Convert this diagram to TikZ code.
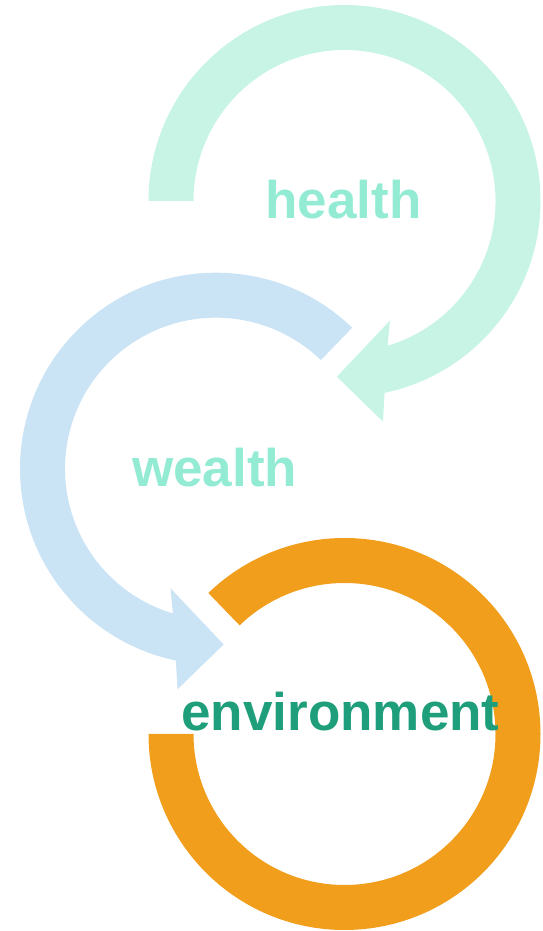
\documentclass[tikz,border=0pt]{standalone}
\usepackage{fontspec}
\setmainfont{Liberation Sans}
\definecolor{hring}{HTML}{C8F4E6}
\definecolor{mint}{HTML}{93EBD4}
\definecolor{wring}{HTML}{CAE3F5}
\definecolor{ering}{HTML}{F29E1D}
\definecolor{etext}{HTML}{1E9E7A}
\tikzset{
  lbl/.style={font=\fontsize{53}{60}\selectfont\bfseries, inner sep=0pt, anchor=base},
}
\begin{document}
\begin{tikzpicture}[x=1pt,y=1pt]
\useasboundingbox (0,0) rectangle (543,931);
% health ring
\begin{scope}[shift={(344.5,730)}]
\fill[hring] (180:196) arc[start angle=180, end angle=-78.2, radius=196]
  -- (-80.1:224) -- (-92.5:175.9) -- (-69.2:128) -- (-73.4:151)
  arc[start angle=-73.4, end angle=180, radius=151] -- cycle;
\end{scope}
% wealth ring
\begin{scope}[shift={(216,462.3)}]
\fill[wring] (46:196) arc[start angle=46, end angle=258.2, radius=196]
  -- (-99.9:224) -- (-87.5:175.9) -- (-110.8:128) -- (253.4:151)
  arc[start angle=253.4, end angle=46, radius=151] -- cycle;
\end{scope}
% environment ring
\begin{scope}[shift={(344.5,197)}]
\fill[ering] (180:196) arc[start angle=180, end angle=494, radius=196]
  -- (494:151) arc[start angle=494, end angle=180, radius=151] -- cycle;
\end{scope}
\node[lbl, text=mint] (health) at (343.5,712) {health};
\node[lbl, text=mint] (wealth) at (214.7,444.3) {wealth};
\node[lbl, text=etext] (environment) at (340.5,200) {environment};
\end{tikzpicture}
\end{document}
